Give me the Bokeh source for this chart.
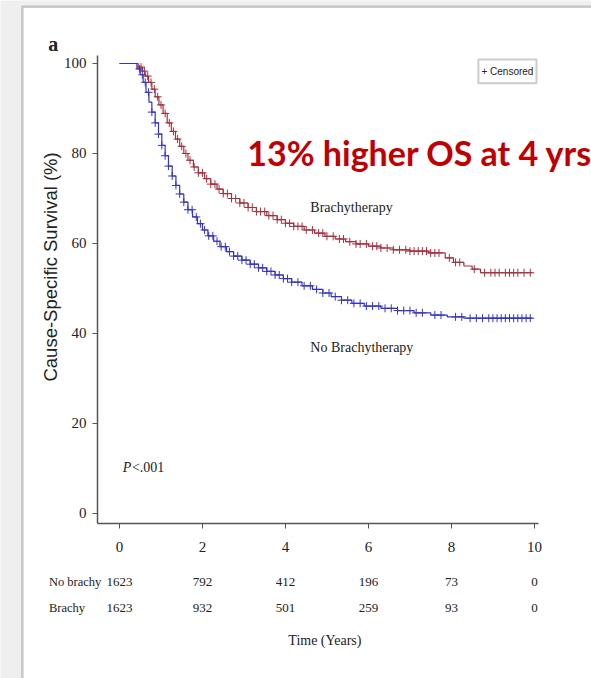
import numpy as np
from bokeh.plotting import figure
from bokeh.models import Label, BoxAnnotation, FixedTicker, LinearAxis
from bokeh.embed import file_html
from bokeh.resources import INLINE

# ---------------- data ----------------
brachy_t = [0, 0.45, 0.55, 0.62, 0.70, 0.78, 0.86, 0.95, 1.05, 1.15, 1.25, 1.35, 1.45, 1.55,
            1.65, 1.78, 1.90, 2.05, 2.20, 2.35, 2.50, 2.70, 2.90, 3.10, 3.30, 3.55, 3.80, 4.00,
            4.20, 4.45, 4.70, 4.95, 5.20, 5.45, 5.70, 6.00, 6.30, 6.60, 7.00, 7.45, 7.85, 8.05,
            8.30, 8.50, 8.70, 9.95]
brachy_s = [100, 99.2, 98.3, 97.2, 95.8, 94.3, 92.6, 90.8, 88.9, 86.8, 84.9, 83.2, 81.6, 80.0,
            78.5, 77.0, 75.7, 74.4, 73.2, 72.1, 71.1, 70.0, 69.0, 68.0, 67.1, 66.2, 65.3, 64.5,
            63.8, 63.0, 62.3, 61.6, 61.0, 60.4, 59.9, 59.4, 59.0, 58.6, 58.3, 57.9, 56.8, 55.8,
            55.0, 54.3, 53.5, 53.5]
nobrachy_t = [0, 0.42, 0.50, 0.57, 0.64, 0.71, 0.78, 0.86, 0.94, 1.02, 1.10, 1.18, 1.27, 1.36,
              1.45, 1.55, 1.65, 1.76, 1.88, 2.00, 2.13, 2.27, 2.42, 2.58, 2.75, 2.95, 3.15, 3.35,
              3.55, 3.75, 3.95, 4.15, 4.40, 4.65, 4.90, 5.10, 5.35, 5.60, 5.90, 6.30, 6.70, 7.10,
              7.50, 7.90, 8.30, 9.95]
nobrachy_s = [100, 98.8, 97.5, 95.8, 93.6, 91.4, 89.2, 86.8, 84.3, 81.8, 79.5, 77.2, 75.0, 72.9,
              71.0, 69.2, 67.5, 65.9, 64.4, 63.0, 61.7, 60.5, 59.3, 58.2, 57.2, 56.3, 55.4, 54.6,
              53.8, 53.0, 52.2, 51.4, 50.6, 49.8, 49.0, 48.2, 47.4, 46.7, 46.1, 45.6, 45.1, 44.6,
              44.1, 43.7, 43.4, 43.4]
brachy_cens = [0.52, 0.60, 0.68, 0.76, 0.84, 0.92, 1.00, 1.10, 1.20, 1.30, 1.40, 1.50, 1.60, 1.70,
               1.80, 1.90, 2.00, 2.10, 2.20, 2.30, 2.40, 2.50, 2.60, 2.70, 2.80, 2.90, 3.00, 3.10,
               3.20, 3.30, 3.40, 3.50, 3.60, 3.70, 3.80, 3.90, 4.00, 4.10, 4.20, 4.30, 4.40, 4.50,
               4.65, 4.80, 4.90, 5.00, 5.15, 5.30, 5.40, 5.55, 5.70, 5.80, 5.95, 6.10, 6.20, 6.30,
               6.45, 6.60, 6.75, 6.90, 7.00, 7.10, 7.20, 7.30, 7.40, 7.50, 7.60, 7.70, 7.95, 8.10,
               8.20, 8.55, 8.80, 8.95, 9.05, 9.15, 9.30, 9.40, 9.50, 9.60, 9.75, 9.90]
nobrachy_cens = [0.48, 0.55, 0.62, 0.70, 0.78, 0.86, 0.94, 1.02, 1.10, 1.18, 1.27, 1.36, 1.45, 1.55,
                 1.65, 1.75, 1.85, 1.95, 2.05, 2.15, 2.25, 2.35, 2.45, 2.55, 2.65, 2.75, 2.85, 2.95,
                 3.05, 3.15, 3.25, 3.35, 3.45, 3.55, 3.65, 3.75, 3.85, 3.95, 4.05, 4.15, 4.30, 4.45,
                 4.60, 4.75, 4.90, 5.05, 5.20, 5.35, 5.50, 5.65, 5.80, 5.95, 6.10, 6.25, 6.40, 6.55,
                 6.70, 6.85, 7.00, 7.15, 7.30, 7.60, 7.75, 8.10, 8.25, 8.45, 8.60, 8.75, 8.90, 9.00,
                 9.10, 9.20, 9.30, 9.40, 9.50, 9.60, 9.70, 9.80, 9.90]
risk_times = [0, 2, 4, 6, 8, 10]
risk_nobrachy = ["1623", "792", "412", "196", "73", "0"]
risk_brachy = ["1623", "932", "501", "259", "93", "0"]
y_ticks = [0, 20, 40, 60, 80, 100]

RED = "#a3323f"
BLUE = "#3434c4"
SERIF = "Liberation Serif"

# axis extents (data units)
X_LO, X_HI = -0.53, 10.1
Y_LO, Y_HI = -2.22, 101.78


def censor_y(ts, ss, cens):
    ts = np.asarray(ts)
    ss = np.asarray(ss)
    idx = np.searchsorted(ts, np.asarray(cens), side="right") - 1
    return ss[idx]


# frame covers the whole canvas; axes are pinned with fixed_location
p = figure(width=591, height=678, x_range=(-2.868, 11.376), y_range=(-36.667, 114.0),
           output_backend="svg", toolbar_location=None,
           x_axis_location=None, y_axis_location=None,
           min_border=0, min_border_left=0, min_border_right=0,
           min_border_top=0, min_border_bottom=0)
p.background_fill_color = "#efefef"
p.border_fill_color = "white"
p.outline_line_color = None
p.xgrid.visible = False
p.ygrid.visible = False

# outer white panel with gray border
panel = BoxAnnotation(left=-2.34, right=30, top=112.6, bottom=-120, fill_color="white",
                      fill_alpha=1, line_color="#5a5a5a", line_width=2.5, level="underlay")
p.add_layout(panel)

xaxis = LinearAxis(fixed_location=Y_LO, bounds=(X_LO, X_HI),
                   ticker=FixedTicker(ticks=risk_times))
yaxis = LinearAxis(fixed_location=X_LO, bounds=(Y_LO, Y_HI),
                   ticker=FixedTicker(ticks=y_ticks))
for ax in (xaxis, yaxis):
    ax.axis_line_color = "#555555"
    ax.axis_line_width = 1.5
    ax.major_tick_line_color = "#555555"
    ax.major_tick_out = 5
    ax.major_tick_in = 0
    ax.minor_tick_line_color = None
    ax.major_label_text_font = SERIF
    ax.major_label_text_font_size = "15px"
    ax.major_label_text_color = "#222222"
xaxis.major_label_standoff = 14
yaxis.major_label_standoff = 6
p.add_layout(xaxis, "below")
p.add_layout(yaxis, "left")

p.step(brachy_t, brachy_s, mode="after", line_color=RED, line_width=1.2)
p.step(nobrachy_t, nobrachy_s, mode="after", line_color=BLUE, line_width=1.2)
p.scatter(brachy_cens, censor_y(brachy_t, brachy_s, brachy_cens), marker="cross", size=8,
          line_color=RED, line_width=1)
p.scatter(nobrachy_cens, censor_y(nobrachy_t, nobrachy_s, nobrachy_cens), marker="cross", size=8,
          line_color=BLUE, line_width=1)


def lab(x, y, text, size="14px", font=SERIF, color="#222222", style="normal", align="left",
        baseline="middle", angle=0):
    p.add_layout(Label(x=x, y=y, text=text, text_font=font, text_font_size=size,
                       text_color=color, text_font_style=style, text_align=align,
                       text_baseline=baseline, angle=angle))


lab(-1.72, 104.3, "a", size="20px", style="bold")
lab(4.6, 68.0, "Brachytherapy")
lab(4.6, 36.9, "No Brachytherapy")
lab(0.08, 10.3, "P", style="italic")
lab(0.30, 10.3, "<.001")
lab(3.08, 80.2, "13% higher OS at 4 yrs", size="34px", font="Lato", color="#c00000",
    style="bold")
lab(-1.66, 54.8, "Cause-Specific Survival (%)", size="18.5px", font="Liberation Sans",
    align="center", angle=np.pi / 2)

# legend box
leg = BoxAnnotation(left=8.65, right=10.05, top=100.9, bottom=95.6, fill_color="white",
                    line_color="#555555", line_width=2)
p.add_layout(leg)
lab(9.35, 98.25, "+ Censored", size="10px", font="Liberation Sans", align="center")

# risk table
lab(-1.7, -15.3, "No brachy", size="12.5px")
lab(-1.7, -20.9, "Brachy", size="12.5px")
for t, a, b in zip(risk_times, risk_nobrachy, risk_brachy):
    lab(t, -15.3, a, size="13px", align="center")
    lab(t, -20.9, b, size="13px", align="center")
lab(4.95, -28.2, "Time (Years)", size="14px", align="center")

open("out.html", "w").write(file_html(p, INLINE))
